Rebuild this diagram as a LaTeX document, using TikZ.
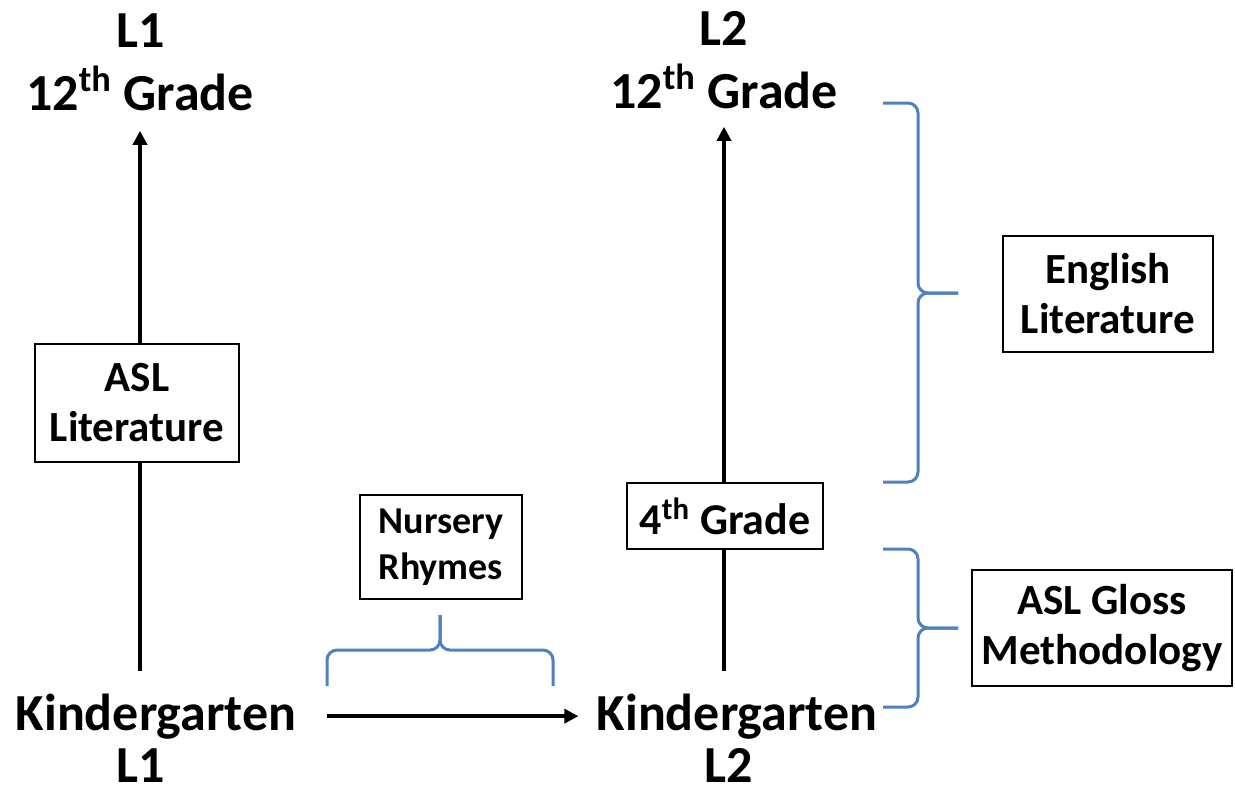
\documentclass[tikz,border=0pt]{standalone}
\usepackage{fontspec}
\setmainfont{Carlito}
\usetikzlibrary{arrows.meta}
\definecolor{braceblue}{RGB}{79,129,189}
\tikzset{
  stagetext/.style={inner sep=0pt, anchor=base, font=\fontsize{26}{30}\selectfont\bfseries},
  topicbox/.style={draw, fill=white, line width=0.8pt, inner sep=0pt, align=center},
  rising/.style={-{Triangle[length=7pt,width=7pt]}, line width=2pt},
  bracket/.style={draw=braceblue, line width=1.5pt, rounded corners=5pt},
}
\begin{document}
\begin{tikzpicture}[x=0.5pt,y=-0.5pt]
				\useasboundingbox (0,0) rectangle (1235,794);
				
				% left column (L1)
				\node[stagetext] (lonehead) at (141,47) {L1};
				\node[stagetext] (ltopgrade) at (140,110) {12\textsuperscript{th} Grade};
				\node[stagetext] (lkinder) at (156,730) {Kindergarten};
				\node[stagetext] (lonefoot) at (141,782) {L1};
				
				% right column (L2)
				\node[stagetext] (rtwohead) at (724,45) {L2};
				\node[stagetext] (rtopgrade) at (724,108) {12\textsuperscript{th} Grade};
				\node[stagetext] (rkinder) at (737,730) {Kindergarten};
				\node[stagetext] (rtwofoot) at (729,782) {L2};
				
				\draw[rising, shorten <=11pt, shorten >=10pt] (ltopgrade |- lkinder.north) -- (ltopgrade.south);
				\draw[rising, shorten <=11pt, shorten >=9pt] (rtopgrade |- rkinder.north) -- (rtopgrade.south);
				\draw[rising, shorten <=15pt, shorten >=9pt] (lkinder.east) -- (rkinder.west);
				
				% boxes
				\node[topicbox, minimum width=102pt, minimum height=59pt, font=\fontsize{21.5}{25}\selectfont\bfseries] (asllit) at (137,403) {ASL\\Literature};
				\node[topicbox, minimum width=98pt, minimum height=33pt, font=\fontsize{22}{26}\selectfont\bfseries] (fourth) at (725,516) {4\textsuperscript{th} Grade};
				\node[topicbox, minimum width=81pt, minimum height=52pt, font=\fontsize{19}{23}\selectfont\bfseries] (nursery) at (441,547) {Nursery\\Rhymes};
				\node[topicbox, minimum width=105pt, minimum height=58pt, font=\fontsize{21.5}{25}\selectfont\bfseries] (englit) at (1108,294) {English\\Literature};
				\node[topicbox, minimum width=130pt, minimum height=58pt, font=\fontsize{21.5}{25}\selectfont\bfseries] (aslgloss) at (1102,628) {ASL Gloss\\Methodology};
				
				% braces
				\coordinate (ntip) at (440,615);
				\coordinate (etip) at (958,293);
				\coordinate (gtip) at (958,628);
				
				\draw[bracket] (327,686) -- (327,650) -- (440,650) -- (ntip);
				\draw[bracket] (553,686) -- (553,650) -- (440,650) -- (ntip);
				
				\draw[bracket] (883,103) -- (918,103) -- (918,293) -- (etip);
				\draw[bracket] (883,482) -- (918,482) -- (918,293) -- (etip);
				
				\draw[bracket] (883,549) -- (918,549) -- (918,628) -- (gtip);
				\draw[bracket] (883,707) -- (918,707) -- (918,628) -- (gtip);
\end{tikzpicture}
\end{document}
